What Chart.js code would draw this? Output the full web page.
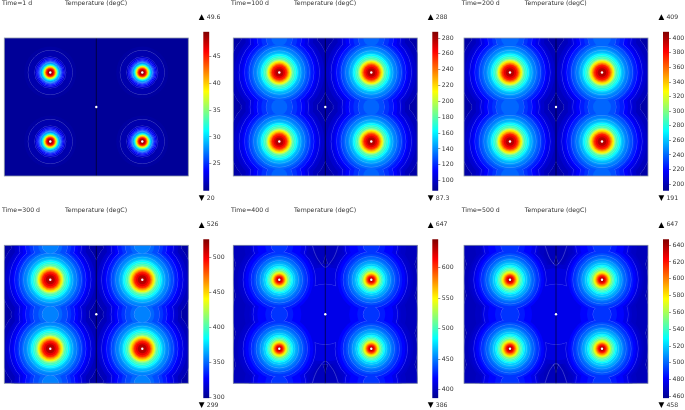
<!DOCTYPE html>
<html>
<head>
<meta charset="utf-8">
<title>Temperature</title>
<script src="https://cdn.jsdelivr.net/npm/chart.js@4"></script>
<style>
  html, body { margin: 0; background: #fff; overflow: hidden; width: 685px; height: 410px; }
  canvas { position: absolute; filter: blur(0.35px); }
</style>
</head>
<body>
<script>
// panel captions and colour range
const timeLabels = ["Time=1 d", "Time=100 d", "Time=200 d", "Time=300 d", "Time=400 d", "Time=500 d"];
const quantityLabel = "Temperature (degC)";
const minTemps = [20, 87.3, 191, 299, 386, 458];
const maxTemps = [49.6, 288, 409, 526, 647, 647];

// colour bar ticks
const ticks1 = [25, 30, 35, 40, 45];
const ticks2 = [100, 120, 140, 160, 180, 200, 220, 240, 260, 280];
const ticks3 = [200, 220, 240, 260, 280, 300, 320, 340, 360, 380, 400];
const ticks4 = [300, 350, 400, 450, 500];
const ticks5 = [400, 450, 500, 550, 600];
const ticks6 = [460, 480, 500, 520, 540, 560, 580, 600, 620, 640];

// background temperature of each panel
const baseTemps = [20.3, 93, 197, 305, 394, 463];

// isotherm temperatures, with their radius around a heater, across the saddle
// between two heaters, and around the middle of the plate (all in plate units)
const temps1 = [20.6, 21, 22, 23, 24, 25, 26, 27, 28, 29, 30, 32, 34, 36, 38, 40, 42, 44, 46, 48, 49];
const radii1 = [26, 22, 15.5, 14, 12.8, 11.8, 11, 10.3, 9.7, 9.1, 8.6, 7.9, 7.3, 6.7, 6.2, 5.7, 5.1, 4.5, 3.8, 2.9, 2.1];
const saddle1 = [];
const middle1 = [];
const lines1 = [1, 2, 3, 4, 5, 6, 7, 8];

const temps2 = [97, 101, 105, 107, 112, 117, 122, 127, 132, 137, 142, 147, 153, 162, 170, 178, 188, 198, 208, 218, 228, 238, 248, 258, 268, 278];
const radii2 = [50, 45, 42, 40, 37, 34.5, 32, 30, 27.8, 25.5, 23.3, 21.5, 19.8, 18, 16.3, 14.7, 13, 12.2, 11.5, 10.7, 9.9, 9, 8.2, 7.3, 5.8, 4];
const saddle2 = [38, 34, 31, 29, 26, 22, 18, 13, 8];
const middle2 = [];
const lines2 = [0, 3, 5, 7, 9, 11, 13, 14, 15, 16, 17, 18];

const temps3 = [202, 206, 211, 213, 218, 224, 229, 235, 240, 245, 251, 256, 263, 272, 280, 289, 300, 311, 322, 333, 344, 354, 365, 376, 387, 398];
const radii3 = [50, 45, 42, 40, 37.5, 35, 32.5, 30.5, 28.3, 26, 23.8, 22, 20.3, 18.5, 16.8, 15.2, 13.5, 12.7, 12, 11.2, 10.3, 9.4, 8.6, 7.7, 6.2, 4.3];
const saddle3 = [38, 34.5, 31, 29, 26, 22, 18, 14, 9];
const middle3 = [];
const lines3 = [0, 3, 5, 7, 9, 11, 13, 14, 15, 16, 17, 18];

const temps4 = [310, 315, 319, 322, 327, 333, 339, 344, 350, 356, 361, 367, 374, 383, 392, 401, 412, 424, 435, 447, 458, 469, 481, 492, 503, 515];
const radii4 = [50, 45, 42.5, 40.5, 38, 35.5, 33, 31, 28.8, 26.5, 24.3, 22.5, 20.8, 19, 17.3, 15.7, 14, 13.1, 12.3, 11.5, 10.6, 9.7, 8.8, 7.9, 6.4, 4.5];
const saddle4 = [39, 36, 33, 31, 28, 24.5, 21, 17, 12, 8];
const middle4 = [];
const lines4 = [0, 3, 5, 7, 9, 11, 13, 14, 15, 16, 17, 18];

const temps5 = [399, 402, 404, 410, 412, 419, 425, 432, 438, 445, 451, 458, 464, 472, 483, 493, 503, 516, 530, 543, 556, 569, 582, 595, 608, 621, 634];
const radii5 = [46, 42, 40, 37, 36, 34, 31, 28, 25.5, 23, 21, 19, 17.5, 15.5, 13.5, 12, 10.8, 9.5, 8.5, 7.6, 6.8, 6, 5.3, 4.6, 3.8, 3, 2.1];
const saddle5 = [47, 35, 30, 28, 26, 22, 14, 8];
const middle5 = [50, 50, 50, 47, 30];
const lines5 = [0, 4, 7, 9, 11, 13, 14, 15, 16, 17];
const lens5X = [79, 82, 86, 92, 98, 102, 105];
const lens5Y = [0, 9, 16, 22, 16, 9, 0];

const temps6 = [467, 469, 471, 475, 477, 482, 486, 491, 496, 500, 505, 510, 515, 520, 528, 535, 543, 552, 562, 571, 581, 590, 600, 609, 619, 628, 638];
const radii6 = [46, 42, 40, 37.5, 36, 34, 31.5, 29, 26.5, 24, 22, 20, 18.5, 16.5, 14.5, 13, 11.6, 10.3, 9.2, 8.3, 7.4, 6.6, 5.8, 5, 4.2, 3.3, 2.3];
const saddle6 = [47, 35, 30, 28, 26, 22, 15, 9];
const middle6 = [50, 50, 50, 46, 30];
const lines6 = [0, 4, 7, 9, 11, 13, 14, 15, 16, 17];
const lens6X = [81, 84, 87, 92, 97, 100, 103];
const lens6Y = [0, 9, 15, 20, 15, 9, 0];

// the plate: heaters, their mirror images past the edges, and saddle rows
const plateW = 184, plateH = 138;
const heaterX = [46, 138], heaterY = [34.5, 103.5];
const mirrorX = [-46, 230], mirrorY = [-34.5, 172.5];
const saddleY = [0, 69, 138];
const middlePoint = { x: 92, y: 69 };

const panels = [
  { temps: temps1, radii: radii1, saddle: saddle1, middle: middle1, lines: lines1, ticks: ticks1 },
  { temps: temps2, radii: radii2, saddle: saddle2, middle: middle2, lines: lines2, ticks: ticks2 },
  { temps: temps3, radii: radii3, saddle: saddle3, middle: middle3, lines: lines3, ticks: ticks3 },
  { temps: temps4, radii: radii4, saddle: saddle4, middle: middle4, lines: lines4, ticks: ticks4 },
  { temps: temps5, radii: radii5, saddle: saddle5, middle: middle5, lines: lines5, ticks: ticks5, lensX: lens5X, lensY: lens5Y },
  { temps: temps6, radii: radii6, saddle: saddle6, middle: middle6, lines: lines6, ticks: ticks6, lensX: lens6X, lensY: lens6Y },
];

const plateLeft = [4.3, 233.3, 464];
const canvasLeft = [0, 229, 460];
const barLeft = [203.3, 432.3, 663];

const jetStops = [[0, 0, 0, 143], [0.125, 0, 0, 255], [0.375, 0, 255, 255], [0.625, 255, 255, 0], [0.875, 255, 0, 0], [1, 128, 0, 0]];
const textFont = "6.2px 'DejaVu Sans'";
const textColor = "#333";
const lineColor = "rgba(225,235,255,0.3)";

function jet(f) {
  f = Math.min(1, Math.max(0, f));
  for (let i = 1; i < jetStops.length; i++) {
    if (f <= jetStops[i][0]) {
      const a = jetStops[i - 1], b = jetStops[i];
      const t = (f - a[0]) / (b[0] - a[0]);
      return `rgb(${a[1] + (b[1] - a[1]) * t},${a[2] + (b[2] - a[2]) * t},${a[3] + (b[3] - a[3]) * t})`;
    }
  }
  return "rgb(128,0,0)";
}

function addCanvas(left, top, w, h) {
  const c = document.createElement("canvas");
  c.width = w;
  c.height = h;
  c.style.left = left + "px";
  c.style.top = top + "px";
  c.style.width = w + "px";
  c.style.height = h + "px";
  document.body.appendChild(c);
  return c;
}

function levelPoints(panel, i, useMirrorX) {
  const pts = [];
  const xs = useMirrorX ? heaterX.concat(mirrorX) : heaterX;
  xs.forEach((x) => {
    heaterY.concat(mirrorY).forEach((y) => pts.push({ x, y, size: panel.radii[i] }));
    if (panel.saddle[i]) saddleY.forEach((y) => pts.push({ x, y, size: panel.saddle[i] }));
  });
  return pts;
}

function plateChart(p) {
  const col = p % 3, row = Math.floor(p / 3);
  const panel = panels[p];
  const lo = minTemps[p], hi = maxTemps[p];
  const mirrored = panel.middle.length === 0;
  const radiusOf = (ctx) => {
    const s = ctx.chart.scales.x;
    const r = s.getPixelForValue(ctx.raw.size) - s.getPixelForValue(0);
    return Number.isFinite(r) ? r : 0;
  };
  const sets = [];
  const ring = (data, temp, line) => sets.push({
    data, clip: 0, showLine: false,
    pointRadius: radiusOf,
    pointBackgroundColor: jet((temp - lo) / (hi - lo)),
    pointBorderColor: line ? lineColor : "rgba(0,0,0,0)",
    pointBorderWidth: line ? 1 : 0,
  });

  ring([{ x: 92, y: 69, size: 300 }], baseTemps[p], false);
  panel.temps.forEach((t, i) => {
    const pts = levelPoints(panel, i, mirrored);
    if (panel.lines.includes(i)) ring(pts, t, true);
    if (panel.middle[i]) pts.push({ x: middlePoint.x, y: middlePoint.y, size: panel.middle[i] });
    ring(pts, t, false);
  });

  // closed isotherms at the top and bottom of the middle column
  if (panel.lensX) {
    const top = panel.lensX.map((x, i) => ({ x, y: panel.lensY[i] }));
    const bottom = panel.lensX.map((x, i) => ({ x, y: plateH - panel.lensY[i] }));
    [top, bottom].forEach((data) => sets.push({
      data, showLine: true, clip: 0, tension: 0.4,
      borderColor: lineColor, borderWidth: 0.8, pointRadius: 0,
    }));
  }

  // centre line and the white probe dots
  sets.push({
    data: [{ x: 92, y: 0 }, { x: 92, y: 138 }], showLine: true, clip: 0,
    borderColor: "rgba(0,0,0,0.7)", borderWidth: 0.8, pointRadius: 0,
  });
  const dots = [middlePoint];
  heaterX.forEach((x) => heaterY.forEach((y) => dots.push({ x, y })));
  sets.push({ data: dots, clip: 0, showLine: false, pointRadius: 1.2, pointBackgroundColor: "#fff", pointBorderWidth: 0 });

  const left = plateLeft[col] - canvasLeft[col];
  const top = 38 + (row ? 0.3 : 0);
  const canvas = addCanvas(canvasLeft[col], row ? 207 : 0, 198, 181);
  new Chart(canvas, {
    type: "scatter",
    data: { datasets: sets.reverse() },
    options: {
      responsive: false, animation: false, events: [],
      layout: { padding: { left, top, right: 198 - left - plateW, bottom: 181 - top - plateH } },
      scales: {
        x: { type: "linear", min: 0, max: plateW, display: false },
        y: { type: "linear", min: 0, max: plateH, display: false },
      },
      plugins: { legend: { display: false }, tooltip: { enabled: false } },
    },
    plugins: [{
      id: "plateText",
      afterDraw(chart) {
        const c = chart.ctx, a = chart.chartArea;
        c.save();
        c.strokeStyle = "#8c97a8";
        c.lineWidth = 0.8;
        c.strokeRect(a.left, a.top, a.right - a.left, a.bottom - a.top);
        c.font = textFont;
        c.fillStyle = textColor;
        c.textBaseline = "middle";
        c.fillText(timeLabels[p], a.left - 2.3, a.top - 34.5);
        c.fillText(quantityLabel, a.left + 60.8, a.top - 34.5);
        c.restore();
      },
    }],
  });
}

function barChart(p) {
  const col = p % 3, row = Math.floor(p / 3);
  const lo = minTemps[p], hi = maxTemps[p];
  const left = 6.3, cTop = 10, w = 34, h = 195;
  const canvas = addCanvas(Math.round(barLeft[col] - left), cTop + (row ? 207 : 0), w, h);
  const padLeft = barLeft[col] - Math.round(barLeft[col] - left);
  const top = row ? 22.2 : 21.7;
  new Chart(canvas, {
    type: "bar",
    data: {
      labels: [""],
      datasets: [{
        data: [[lo, hi]],
        barPercentage: 1, categoryPercentage: 1,
        backgroundColor(ctx) {
          const y = ctx.chart.scales.y;
          const y0 = y ? y.getPixelForValue(lo) : NaN, y1 = y ? y.getPixelForValue(hi) : NaN;
          if (!Number.isFinite(y0) || !Number.isFinite(y1)) return "#00f";
          const g = ctx.chart.ctx.createLinearGradient(0, y0, 0, y1);
          jetStops.forEach((s) => g.addColorStop(s[0], jet(s[0])));
          return g;
        },
      }],
    },
    options: {
      responsive: false, animation: false, events: [],
      layout: { padding: { left: padLeft, top, bottom: h - top - 159, right: 0 } },
      scales: {
        x: { display: false },
        y: {
          position: "right", min: lo, max: hi,
          afterBuildTicks(s) { s.ticks = panels[p].ticks.map((value) => ({ value })); },
          afterFit(s) { s.width = w - padLeft - 6; },
          border: { display: false },
          grid: { drawOnChartArea: false, tickLength: 2, tickColor: "#555", lineWidth: 0.6 },
          ticks: { color: textColor, font: { family: "DejaVu Sans", size: 6.2 }, padding: 1.5, maxRotation: 0, autoSkip: false },
        },
      },
      plugins: { legend: { display: false }, tooltip: { enabled: false } },
    },
    plugins: [{
      id: "barText",
      afterDraw(chart) {
        const c = chart.ctx, a = chart.chartArea;
        c.save();
        c.textBaseline = "middle";
        c.font = "7.5px 'DejaVu Sans'";
        c.fillStyle = "#000";
        c.fillText("\u25B2", a.left - 4.6, a.top - 14.5);
        c.fillText("\u25BC", a.left - 4.6, a.bottom + 7.3);
        c.font = textFont;
        c.fillStyle = textColor;
        c.fillText(String(hi), a.left + 3.4, a.top - 14.5);
        c.fillText(String(lo), a.left + 3.4, a.bottom + 7.3);
        c.restore();
      },
    }],
  });
}

panels.forEach((_, p) => {
  plateChart(p);
  barChart(p);
});
</script>
</body>
</html>
